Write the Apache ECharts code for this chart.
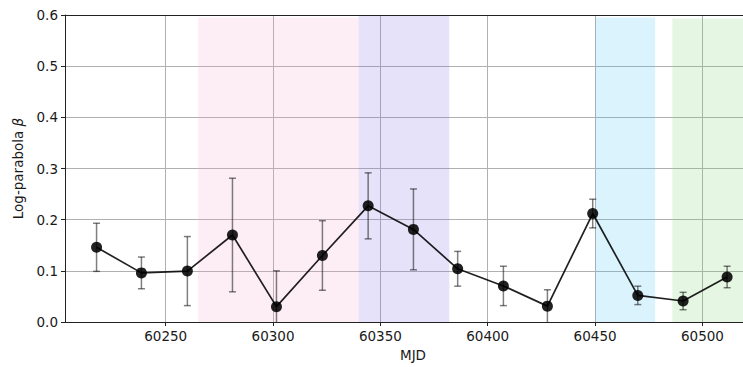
<!DOCTYPE html>
<html>
<head>
<meta charset="utf-8">
<script src="https://cdn.jsdelivr.net/npm/echarts@6/dist/echarts.min.js"></script>
<style>
html,body{margin:0;padding:0;background:#fff;}
#chart{width:743px;height:367px;}
</style>
</head>
<body>
<div id="chart"></div>
<script>
// ---- data ----
const mjd  = [60217.8, 60238.7, 60260.1, 60281.1, 60301.6, 60323.0, 60344.3, 60365.4, 60386.0, 60407.3, 60427.8, 60448.9, 60469.9, 60491.0, 60511.5];
const beta = [0.146, 0.096, 0.0995, 0.170, 0.030, 0.130, 0.227, 0.181, 0.104, 0.0705, 0.031, 0.212, 0.052, 0.041, 0.088];
const betaErr = [0.047, 0.031, 0.0675, 0.111, 0.070, 0.068, 0.0645, 0.079, 0.034, 0.0385, 0.032, 0.028, 0.018, 0.017, 0.021];

const bandStart = [60265.1, 60339.9, 60450.2, 60486.0];
const bandEnd   = [60339.9, 60382.1, 60478.0, 60530.0];
const bandTop   = [0.595, 0.598, 0.595, 0.593];
const bandColors = ['rgba(245,170,205,0.2)', 'rgba(130,110,230,0.2)', 'rgba(70,195,245,0.2)', 'rgba(125,215,115,0.2)'];

const xTicks = [60250, 60300, 60350, 60400, 60450, 60500];
const xMin = 60203.1, xMax = 60518.9;
const yMin = 0, yMax = 0.6, yStep = 0.1;

const FONT = 'DejaVu Sans';
const TXT = '#1a1a1a';
const AX = '#222';

const chart = echarts.init(document.getElementById('chart'), null, {renderer: 'svg'});

const bandData = bandStart.map((s, i) => [s, bandEnd[i], bandTop[i]]);
const errData = mjd.map((x, i) => [x, beta[i] - betaErr[i], beta[i] + betaErr[i]]);
const lineData = mjd.map((x, i) => [x, beta[i]]);

const option = {
  animation: false,
  backgroundColor: '#fff',
  grid: {left: 65, right: 0, top: 15, bottom: 41, containLabel: false},
  xAxis: [{
    type: 'value', min: xMin, max: xMax,
    name: 'MJD', nameLocation: 'middle', nameGap: 26,
    nameTextStyle: {fontFamily: FONT, fontSize: 13.5, color: TXT, padding: [0, 0, 0, 18]},
    axisLine: {show: true, lineStyle: {color: AX, width: 1}},
    axisTick: {show: true, length: 4, lineStyle: {color: AX, width: 1}, customValues: xTicks},
    axisLabel: {fontFamily: FONT, fontSize: 13.5, color: TXT, margin: 7, customValues: xTicks,
      formatter: v => String(Math.round(v))},
    splitLine: {show: true, lineStyle: {color: '#b0b0b0', width: 1}}
  }, {
    type: 'value', min: xMin, max: xMax, position: 'top',
    axisLine: {show: true, lineStyle: {color: AX, width: 1}},
    axisTick: {show: false}, axisLabel: {show: false}, splitLine: {show: false}
  }],
  yAxis: {
    type: 'value', min: yMin, max: yMax, interval: yStep,
    name: 'Log-parabola {i|β}', nameLocation: 'middle', nameGap: 40, nameRotate: 90,
    nameTextStyle: {fontFamily: FONT, fontSize: 13.5, color: TXT,
      rich: {i: {fontFamily: FONT, fontStyle: 'italic', fontSize: 13.5, color: TXT}}},
    axisLine: {show: true, lineStyle: {color: AX, width: 1}},
    axisTick: {show: true, length: 4, lineStyle: {color: AX, width: 1}},
    axisLabel: {fontFamily: FONT, fontSize: 13.5, color: TXT, margin: 7, formatter: v => v.toFixed(1)},
    splitLine: {show: true, lineStyle: {color: '#b0b0b0', width: 1}}
  },
  series: [{
    type: 'custom', z: 1, silent: true,
    data: bandData,
    renderItem: function (params, api) {
      const p1 = api.coord([api.value(0), api.value(2)]);
      const p2 = api.coord([Math.min(api.value(1), xMax), yMin]);
      return {type: 'rect', shape: {x: p1[0], y: p1[1], width: p2[0] - p1[0], height: p2[1] - p1[1]},
        style: {fill: bandColors[params.dataIndex]}};
    }
  }, {
    type: 'custom', z: 3, silent: true,
    data: errData,
    renderItem: function (params, api) {
      const x = api.value(0);
      const lo = api.value(1), hi = api.value(2);
      const loC = Math.max(lo, yMin);
      const pTop = api.coord([x, hi]);
      const pBot = api.coord([x, loC]);
      const cap = 3.5;
      const st = {stroke: 'rgba(0,0,0,0.5)', lineWidth: 1.5, fill: null};
      const children = [
        {type: 'line', shape: {x1: pTop[0], y1: pTop[1], x2: pBot[0], y2: pBot[1]}, style: st},
        {type: 'line', shape: {x1: pTop[0] - cap, y1: pTop[1], x2: pTop[0] + cap, y2: pTop[1]}, style: st}
      ];
      if (lo >= yMin) {
        children.push({type: 'line', shape: {x1: pBot[0] - cap, y1: pBot[1], x2: pBot[0] + cap, y2: pBot[1]}, style: st});
      }
      return {type: 'group', children: children};
    }
  }, {
    type: 'line', z: 4, silent: true,
    data: lineData,
    symbol: 'circle', symbolSize: 11,
    lineStyle: {color: 'rgba(0,0,0,0.87)', width: 1.7},
    itemStyle: {color: 'rgba(0,0,0,0.87)', borderWidth: 0}
  }]
};
chart.setOption(option);
</script>
</body>
</html>
